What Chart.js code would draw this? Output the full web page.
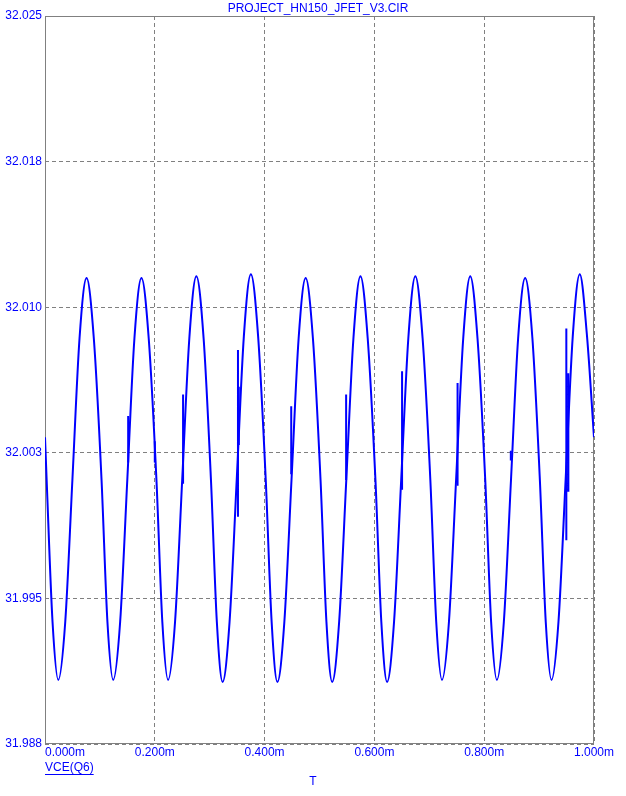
<!DOCTYPE html>
<html>
<head>
<meta charset="utf-8">
<script src="https://cdn.jsdelivr.net/npm/chart.js@4/dist/chart.umd.min.js"></script>
<style>
  html, body { margin: 0; padding: 0; background: #ffffff; }
  #wrap { width: 626px; height: 796px; }
</style>
</head>
<body>
<div id="wrap"><canvas id="c" width="626" height="796"></canvas></div>
<script>
// ---- data (time in ms, VCE(Q6) in volts) ----
const chartTitle = 'PROJECT_HN150_JFET_V3.CIR';
const seriesName = 'VCE(Q6)';
const xAxisName = 'T';

const timeMs = [
  0.0000, 0.0030, 0.0137, 0.0242, 0.0369, 0.0499, 0.0629, 0.0757, 0.0889,
  0.1030, 0.1137, 0.1242, 0.1369, 0.1499, 0.1629, 0.1757, 0.1889,
  0.2030, 0.2137, 0.2242, 0.2369, 0.2499, 0.2629, 0.2757, 0.2889,
  0.3023, 0.3130, 0.3235, 0.3362, 0.3492, 0.3622, 0.3750, 0.3882,
  0.4021, 0.4128, 0.4233, 0.4360, 0.4490, 0.4620, 0.4748, 0.4880,
  0.5019, 0.5126, 0.5231, 0.5358, 0.5488, 0.5618, 0.5746, 0.5878,
  0.6019, 0.6126, 0.6231, 0.6358, 0.6488, 0.6618, 0.6746, 0.6878,
  0.7019, 0.7126, 0.7231, 0.7358, 0.7488, 0.7618, 0.7746, 0.7878,
  0.8019, 0.8126, 0.8231, 0.8358, 0.8488, 0.8618, 0.8746, 0.8878,
  0.9014, 0.9121, 0.9226, 0.9353, 0.9483, 0.9613, 0.9741, 0.9873,
  1.0000
];
const vceValues = [
  32.0033, 32.0011, 31.9938, 31.9908, 31.9938, 32.0011, 32.0084, 32.0115, 32.0084,
  32.0011, 31.9938, 31.9908, 31.9938, 32.0011, 32.0084, 32.0115, 32.0084,
  32.0011, 31.9938, 31.9908, 31.9938, 32.0011, 32.0084, 32.0116, 32.0084,
  32.0011, 31.9938, 31.9907, 31.9938, 32.0011, 32.0085, 32.0117, 32.0085,
  32.0011, 31.9938, 31.9907, 31.9938, 32.0011, 32.0084, 32.0115, 32.0084,
  32.0011, 31.9938, 31.9907, 31.9938, 32.0011, 32.0084, 32.0116, 32.0084,
  32.0011, 31.9938, 31.9907, 31.9938, 32.0011, 32.0084, 32.0116, 32.0084,
  32.0011, 31.9938, 31.9908, 31.9938, 32.0011, 32.0084, 32.0116, 32.0084,
  32.0011, 31.9938, 31.9908, 31.9938, 32.0011, 32.0084, 32.0115, 32.0084,
  32.0011, 31.9938, 31.9908, 31.9938, 32.0011, 32.0085, 32.0117, 32.0085,
  32.0033
];

// short glitches (vertical spikes) seen on the trace
const spikeTimes = [0.1515, 0.2000, 0.2515, 0.3515, 0.3530, 0.4485, 0.5485, 0.6504, 0.7515, 0.8485, 0.9496, 0.9533];
const spikeLow   = [32.0020, 32.0020, 32.0009, 31.9992, 32.0029, 32.0014, 32.0011, 32.0006, 32.0008, 32.0021, 31.9980, 32.0005];
const spikeHigh  = [32.0044, 32.0031, 32.0055, 32.0078, 32.0059, 32.0049, 32.0055, 32.0067, 32.0061, 32.0026, 32.0089, 32.0066];

const xTickValues = [0, 0.2, 0.4, 0.6, 0.8, 1.0];
const xTickLabels = ['0.000m', '0.200m', '0.400m', '0.600m', '0.800m', '1.000m'];
const yTickValues = [31.9875, 31.995, 32.0025, 32.010, 32.0175, 32.025];
const yTickLabels = ['31.988', '31.995', '32.003', '32.010', '32.018', '32.025'];

// ---- build library structures ----
const mainPoints = timeMs.map((t, i) => ({ x: t, y: vceValues[i] }));
const spikePoints = [];
spikeTimes.forEach((t, i) => {
  spikePoints.push({ x: t, y: spikeLow[i] });
  spikePoints.push({ x: t, y: spikeHigh[i] });
  spikePoints.push({ x: t, y: null });
});

const BLUE = '#0000ff';
const GRAY = '#808080';
const FONT = '"Liberation Sans", Arial, sans-serif';

const framePlugin = {
  id: 'frame',
  beforeDatasetsDraw(chart) {
    const { ctx, chartArea: a } = chart;
    ctx.save();
    ctx.strokeStyle = GRAY;
    ctx.lineWidth = 1;
    ctx.setLineDash([]);
    const l = Math.round(a.left) + 0.5, t = Math.round(a.top) + 0.5;
    const r = Math.round(a.right) - 0.5, b = Math.round(a.bottom) - 0.5;
    ctx.strokeRect(l, t, r - l, b - t);
    ctx.restore();
  },
  afterDraw(chart) {
    const { ctx, chartArea: a } = chart;
    const xs = chart.scales.x;
    ctx.save();
    ctx.fillStyle = BLUE;
    ctx.font = '12px ' + FONT;
    ctx.textBaseline = 'middle';
    // title
    ctx.textAlign = 'center';
    ctx.fillText(chartTitle, 318, 9);
    // x tick labels
    xTickValues.forEach((v, i) => {
      const px = xs.getPixelForValue(v);
      ctx.textAlign = i === 0 ? 'left' : 'center';
      ctx.fillText(xTickLabels[i], i === 0 ? a.left : px, 753);
    });
    // series name (underlined)
    ctx.textAlign = 'left';
    ctx.fillText(seriesName, a.left, 768);
    const w = ctx.measureText(seriesName).width;
    ctx.strokeStyle = BLUE;
    ctx.lineWidth = 1;
    ctx.beginPath();
    ctx.moveTo(a.left, 774.5);
    ctx.lineTo(a.left + w, 774.5);
    ctx.stroke();
    // x axis name
    ctx.textAlign = 'center';
    ctx.fillText(xAxisName, 313, 782);
    ctx.restore();
  }
};

new Chart(document.getElementById('c'), {
  type: 'line',
  data: {
    datasets: [
      {
        label: seriesName,
        data: mainPoints,
        borderColor: BLUE,
        borderWidth: 2,
        pointRadius: 0,
        fill: false,
        cubicInterpolationMode: 'monotone'
      },
      {
        label: 'glitches',
        data: spikePoints,
        borderColor: BLUE,
        borderWidth: 2,
        pointRadius: 0,
        fill: false,
        tension: 0,
        spanGaps: false
      }
    ]
  },
  options: {
    responsive: false,
    animation: false,
    devicePixelRatio: 1,
    layout: { padding: { top: 16, right: 32, left: 0, bottom: 0 } },
    plugins: {
      legend: { display: false },
      title: { display: false },
      tooltip: { enabled: false }
    },
    scales: {
      x: {
        type: 'linear',
        min: 0,
        max: 1,
        afterBuildTicks: s => { s.ticks = xTickValues.map(v => ({ value: v })); },
        afterFit: s => { s.height = 52; },
        ticks: { display: false },
        grid: { color: GRAY, lineWidth: 1, drawTicks: false },
        border: { display: false, dash: [4, 3] }
      },
      y: {
        type: 'linear',
        min: 31.9875,
        max: 32.025,
        afterBuildTicks: s => { s.ticks = yTickValues.map(v => ({ value: v })); },
        afterFit: s => { s.width = 45; },
        ticks: {
          color: BLUE,
          font: { family: FONT, size: 12 },
          padding: 3,
          callback: (v, i) => yTickLabels[i]
        },
        grid: { color: GRAY, lineWidth: 1, drawTicks: false },
        border: { display: false, dash: [4, 3] }
      }
    }
  },
  plugins: [framePlugin]
});
</script>
</body>
</html>
